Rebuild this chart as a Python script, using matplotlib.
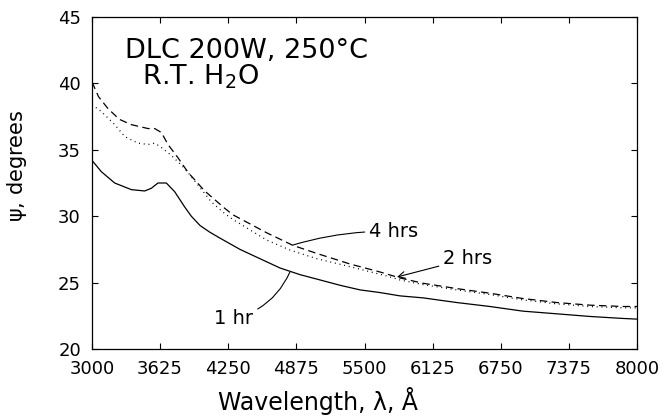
import matplotlib
matplotlib.use("Agg")
import matplotlib.pyplot as plt

plt.rcParams['font.family'] = ['DejaVu Sans']
plt.rcParams['mathtext.default'] = 'regular'

# 1 hr (solid)
wl_1hr = [3000, 3086, 3208, 3361, 3483, 3544, 3605, 3682, 3758, 3850, 3911, 3991,
          4080, 4174, 4358, 4541, 4725, 4908, 5092, 5275, 5459, 5642, 5826, 6037, 6345,
          6651, 6954, 7263, 7569, 7872, 8000]
psi_1hr = [34.2, 33.35, 32.5, 32.0, 31.9, 32.1, 32.5, 32.5, 31.85, 30.7, 30.0, 29.3,
           28.8, 28.35, 27.5, 26.8, 26.1, 25.6, 25.2, 24.8, 24.45, 24.25, 24.0, 23.85, 23.5,
           23.2, 22.85, 22.65, 22.45, 22.3, 22.25]

# 2 hrs (dotted)
wl_2hr = [3000, 3083, 3208, 3300, 3422, 3514, 3575, 3633, 3725, 3850, 3972, 4092,
          4217, 4294, 4603, 4817, 5061, 5367, 5703, 5826, 6037, 6345, 6651, 6954,
          7263, 7569, 7872, 8000]
psi_2hr = [38.4, 37.9, 36.9, 36.0, 35.5, 35.4, 35.5, 35.2, 34.6, 33.6, 32.35, 31.1,
           30.2, 29.75, 28.2, 27.45, 26.8, 26.2, 25.5, 25.2, 24.85, 24.45, 24.1, 23.7,
           23.4, 23.2, 23.1, 23.1]

# 4 hrs (dashed)
wl_4hr = [3000, 3060, 3147, 3250, 3358, 3514, 3575, 3637, 3697, 3789, 3881, 4034,
          4217, 4294, 4603, 4844, 5061, 5367, 5642, 5826, 6037, 6345, 6651, 6954,
          7263, 7569, 7872, 8000]
psi_4hr = [40.1, 39.0, 38.1, 37.3, 36.9, 36.6, 36.6, 36.3, 35.4, 34.4, 33.3, 31.9,
           30.6, 30.1, 28.75, 27.8, 27.2, 26.4, 25.8, 25.35, 24.95, 24.55, 24.2, 23.8,
           23.5, 23.3, 23.2, 23.2]

x_ticks = [3000, 3625, 4250, 4875, 5500, 6125, 6750, 7375, 8000]
y_ticks = [20, 25, 30, 35, 40, 45]

fig = plt.figure(figsize=(6.64, 4.18), dpi=100)
ax = fig.add_axes([92/664, 1-349/418, 545/664, 332/418])

lw = 0.9
ax.plot(wl_1hr, psi_1hr, color='black', lw=lw, ls='-')
ax.plot(wl_2hr, psi_2hr, color='black', lw=lw, ls=(0, (0.8, 3.0)))
ax.plot(wl_4hr, psi_4hr, color='black', lw=lw, ls=(0, (6, 3.5)))

ax.set_xlim(3000, 8000)
ax.set_ylim(20, 45)
ax.set_xticks(x_ticks)
ax.set_yticks(y_ticks)
ax.tick_params(direction='in', length=4, width=0.8, top=True, right=True,
               labelsize=13, pad=8)
for s in ax.spines.values():
    s.set_linewidth(0.9)

ax.set_xlabel('Wavelength, λ, Å', fontsize=17, va='baseline')
ax.xaxis.set_label_coords(0.415, -0.184)
ax.set_ylabel(r'$\psi$, degrees', fontsize=15, va='center', ha='center')
ax.yaxis.set_label_coords(-0.138, 0.551)

ax.text(3303, 39.88, 'DLC 200W, 250°C\n  R.T. H$_2$O', fontsize=19.5,
        va='baseline', ha='left', linespacing=0.95)

ax.annotate('4 hrs', xy=(4844, 27.83), xytext=(5540, 28.85), fontsize=14,
            va='center', ha='left',
            arrowprops=dict(arrowstyle='-', lw=0.8, color='black', shrinkA=1, shrinkB=0,
                            connectionstyle='arc3,rad=0.08'))
ax.annotate('2 hrs', xy=(5798, 25.42), xytext=(6220, 26.8), fontsize=14,
            va='center', ha='left',
            arrowprops=dict(arrowstyle='->', lw=0.8, color='black', shrinkA=1, shrinkB=0,
                            mutation_scale=12, connectionstyle='arc3,rad=0.0'))
ax.annotate('1 hr', xy=(4816, 25.8), xytext=(4294, 22.3), fontsize=14,
            va='center', ha='center',
            arrowprops=dict(arrowstyle='-', lw=0.8, color='black', shrinkA=2, shrinkB=0,
                            connectionstyle='arc3,rad=0.25'))

fig.savefig('out.png', dpi=100)
